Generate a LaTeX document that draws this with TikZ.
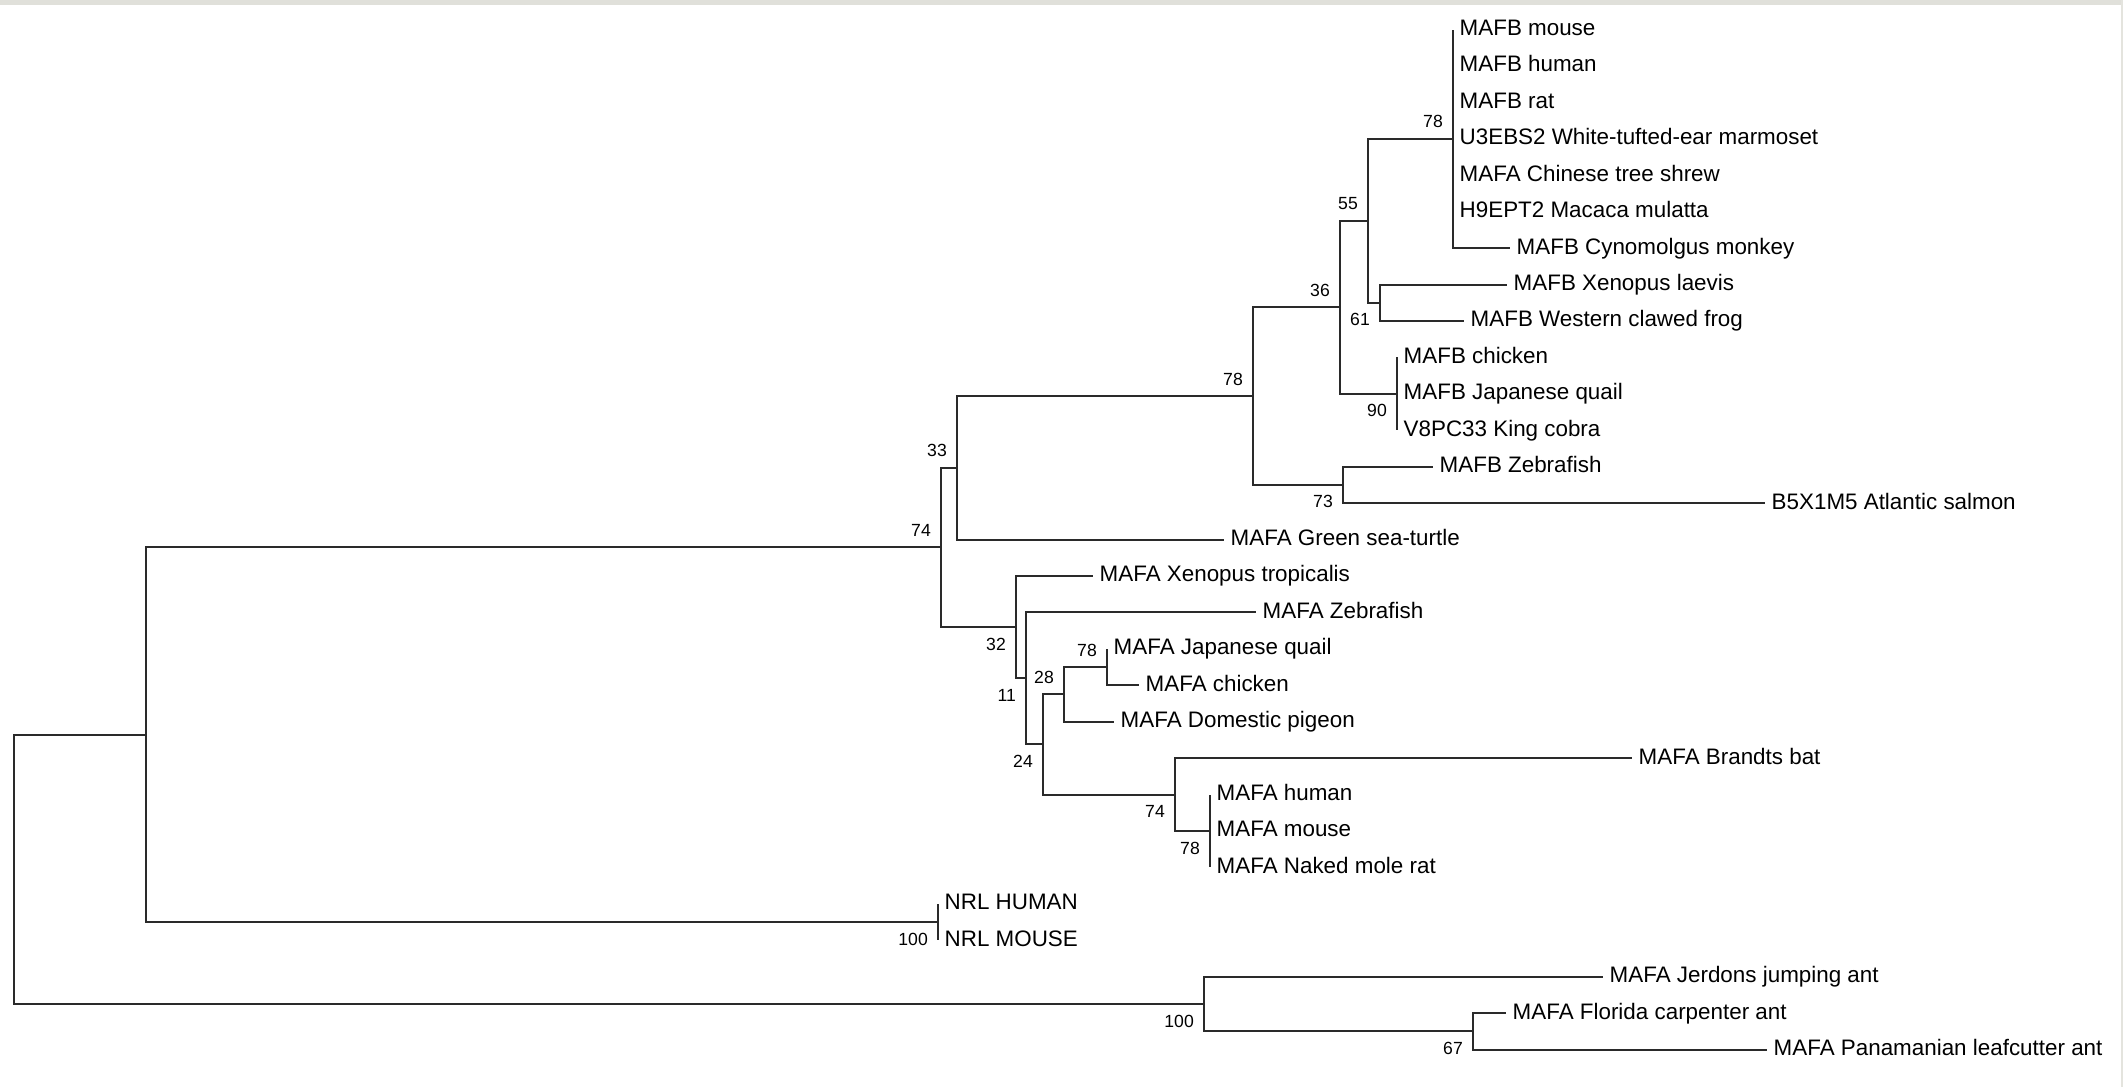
\documentclass[tikz,border=0pt]{standalone}
\usepackage{fontspec}
\setmainfont{Liberation Sans}
\definecolor{branch}{HTML}{2A2A2A}
\definecolor{topband}{HTML}{E0E0DA}
\definecolor{edgeline}{HTML}{E4E4DE}
\newcommand\rowy[1]{29.5+36.43*#1}
\begin{document}
\begin{tikzpicture}[x=1pt,y=-1pt,
  br/.style={draw=branch,line width=2pt},
  leaf/.style={anchor=base west,inner sep=0pt,font=\fontsize{22.4}{26}\selectfont,xshift=6.5pt,yshift=-6pt},
  boot/.style={anchor=east,inner sep=0pt,font=\fontsize{17.6}{20}\selectfont},
]
\useasboundingbox (0,0) rectangle (2123,1087);
\fill[white] (0,0) rectangle (2123,1087);
\fill[topband] (0,0) rectangle (2123,5);
\fill[edgeline] (2121,0) rectangle (2123,1087);

% internal nodes (x of vertical bar, y of incoming branch)
\coordinate (root) at (14,{\rowy{23.0546875}});
\coordinate (n1) at (146,{\rowy{19.359375}});
\coordinate (n2) at (941,{\rowy{14.21875}});
\coordinate (n3) at (957,{\rowy{12.03125}});
\coordinate (n78b) at (1253,{\rowy{10.0625}});
\coordinate (n36) at (1340,{\rowy{7.625}});
\coordinate (n55) at (1368,{\rowy{5.25}});
\coordinate (n78m) at (1453,{\rowy{3}});
\coordinate (n61) at (1380,{\rowy{7.5}});
\coordinate (n90) at (1397,{\rowy{10}});
\coordinate (n73) at (1343,{\rowy{12.5}});
\coordinate (n32) at (1016,{\rowy{16.40625}});
\coordinate (n11) at (1026,{\rowy{17.8125}});
\coordinate (n24) at (1043,{\rowy{19.625}});
\coordinate (n28) at (1064,{\rowy{18.25}});
\coordinate (n78q) at (1107,{\rowy{17.5}});
\coordinate (n74b) at (1175,{\rowy{21}});
\coordinate (n78h) at (1210,{\rowy{22}});
\coordinate (nnrl) at (938,{\rowy{24.5}});
\coordinate (nants) at (1204,{\rowy{26.75}});
\coordinate (n67) at (1473,{\rowy{27.5}});

% leaf tips
\coordinate (t0) at (1453,{\rowy{0}});
\coordinate (t1) at (1453,{\rowy{1}});
\coordinate (t2) at (1453,{\rowy{2}});
\coordinate (t3) at (1453,{\rowy{3}});
\coordinate (t4) at (1453,{\rowy{4}});
\coordinate (t5) at (1453,{\rowy{5}});
\coordinate (t6) at (1510,{\rowy{6}});
\coordinate (t7) at (1507,{\rowy{7}});
\coordinate (t8) at (1464,{\rowy{8}});
\coordinate (t9) at (1397,{\rowy{9}});
\coordinate (t10) at (1397,{\rowy{10}});
\coordinate (t11) at (1397,{\rowy{11}});
\coordinate (t12) at (1433,{\rowy{12}});
\coordinate (t13) at (1765,{\rowy{13}});
\coordinate (t14) at (1224,{\rowy{14}});
\coordinate (t15) at (1093,{\rowy{15}});
\coordinate (t16) at (1256,{\rowy{16}});
\coordinate (t17) at (1107,{\rowy{17}});
\coordinate (t18) at (1139,{\rowy{18}});
\coordinate (t19) at (1114,{\rowy{19}});
\coordinate (t20) at (1632,{\rowy{20}});
\coordinate (t21) at (1210,{\rowy{21}});
\coordinate (t22) at (1210,{\rowy{22}});
\coordinate (t23) at (1210,{\rowy{23}});
\coordinate (t24) at (938,{\rowy{24}});
\coordinate (t25) at (938,{\rowy{25}});
\coordinate (t26) at (1603,{\rowy{26}});
\coordinate (t27) at (1506,{\rowy{27}});
\coordinate (t28) at (1767,{\rowy{28}});

% branches
\draw[br] (root) |- (n1);
\draw[br] (root) |- (nants);
\draw[br] (n1) |- (n2);
\draw[br] (n1) |- (nnrl);
\draw[br] (n2) |- (n3);
\draw[br] (n2) |- (n32);
\draw[br] (n3) |- (n78b);
\draw[br] (n3) |- (t14);
\draw[br] (n78b) |- (n36);
\draw[br] (n78b) |- (n73);
\draw[br] (n36) |- (n55);
\draw[br] (n36) |- (n90);
\draw[br] (n55) |- (n78m);
\draw[br] (n55) |- (n61);
\foreach \t in {t0,t1,t2,t3,t4,t5,t6} \draw[br] (n78m) |- (\t);
\draw[br] (n61) |- (t7);
\draw[br] (n61) |- (t8);
\foreach \t in {t9,t10,t11} \draw[br] (n90) |- (\t);
\draw[br] (n73) |- (t12);
\draw[br] (n73) |- (t13);
\draw[br] (n32) |- (t15);
\draw[br] (n32) |- (n11);
\draw[br] (n11) |- (t16);
\draw[br] (n11) |- (n24);
\draw[br] (n24) |- (n28);
\draw[br] (n24) |- (n74b);
\draw[br] (n28) |- (n78q);
\draw[br] (n28) |- (t19);
\draw[br] (n78q) |- (t17);
\draw[br] (n78q) |- (t18);
\draw[br] (n74b) |- (t20);
\draw[br] (n74b) |- (n78h);
\foreach \t in {t21,t22,t23} \draw[br] (n78h) |- (\t);
\draw[br] (nnrl) |- (t24);
\draw[br] (nnrl) |- (t25);
\draw[br] (nants) |- (t26);
\draw[br] (nants) |- (n67);
\draw[br] (n67) |- (t27);
\draw[br] (n67) |- (t28);

% leaf labels
\node[leaf] (l0) at (t0) {MAFB mouse};
\node[leaf] (l1) at (t1) {MAFB human};
\node[leaf] (l2) at (t2) {MAFB rat};
\node[leaf] (l3) at (t3) {U3EBS2 White-tufted-ear marmoset};
\node[leaf] (l4) at (t4) {MAFA Chinese tree shrew};
\node[leaf] (l5) at (t5) {H9EPT2 Macaca mulatta};
\node[leaf] (l6) at (t6) {MAFB Cynomolgus monkey};
\node[leaf] (l7) at (t7) {MAFB Xenopus laevis};
\node[leaf] (l8) at (t8) {MAFB Western clawed frog};
\node[leaf] (l9) at (t9) {MAFB chicken};
\node[leaf] (l10) at (t10) {MAFB Japanese quail};
\node[leaf] (l11) at (t11) {V8PC33 King cobra};
\node[leaf] (l12) at (t12) {MAFB Zebrafish};
\node[leaf] (l13) at (t13) {B5X1M5 Atlantic salmon};
\node[leaf] (l14) at (t14) {MAFA Green sea-turtle};
\node[leaf] (l15) at (t15) {MAFA Xenopus tropicalis};
\node[leaf] (l16) at (t16) {MAFA Zebrafish};
\node[leaf] (l17) at (t17) {MAFA Japanese quail};
\node[leaf] (l18) at (t18) {MAFA chicken};
\node[leaf] (l19) at (t19) {MAFA Domestic pigeon};
\node[leaf] (l20) at (t20) {MAFA Brandts bat};
\node[leaf] (l21) at (t21) {MAFA human};
\node[leaf] (l22) at (t22) {MAFA mouse};
\node[leaf] (l23) at (t23) {MAFA Naked mole rat};
\node[leaf] (l24) at (t24) {NRL HUMAN};
\node[leaf] (l25) at (t25) {NRL MOUSE};
\node[leaf] (l26) at (t26) {MAFA Jerdons jumping ant};
\node[leaf] (l27) at (t27) {MAFA Florida carpenter ant};
\node[leaf] (l28) at (t28) {MAFA Panamanian leafcutter ant};

% bootstrap values
\node[boot] (b78m) at ([shift={(-10,-17)}]n78m) {78};
\node[boot] (b55) at ([shift={(-10,-17)}]n55) {55};
\node[boot] (b36) at ([shift={(-10,-17)}]n36) {36};
\node[boot] (b78b) at ([shift={(-10,-17)}]n78b) {78};
\node[boot] (b33) at ([shift={(-10,-17)}]n3) {33};
\node[boot] (b74) at ([shift={(-10,-17)}]n2) {74};
\node[boot] (b28) at ([shift={(-10,-17)}]n28) {28};
\node[boot] (b78q) at ([shift={(-10,-17)}]n78q) {78};
\node[boot] (b61) at ([shift={(-10,17)}]n61) {61};
\node[boot] (b90) at ([shift={(-10,17)}]n90) {90};
\node[boot] (b73) at ([shift={(-10,17)}]n73) {73};
\node[boot] (b32) at ([shift={(-10,17)}]n32) {32};
\node[boot] (b11) at ([shift={(-10,17)}]n11) {11};
\node[boot] (b24) at ([shift={(-10,17)}]n24) {24};
\node[boot] (b74b) at ([shift={(-10,17)}]n74b) {74};
\node[boot] (b78h) at ([shift={(-10,17)}]n78h) {78};
\node[boot] (bnrl) at ([shift={(-10,17)}]nnrl) {100};
\node[boot] (bants) at ([shift={(-10,17)}]nants) {100};
\node[boot] (b67) at ([shift={(-10,17)}]n67) {67};
\end{tikzpicture}
\end{document}
